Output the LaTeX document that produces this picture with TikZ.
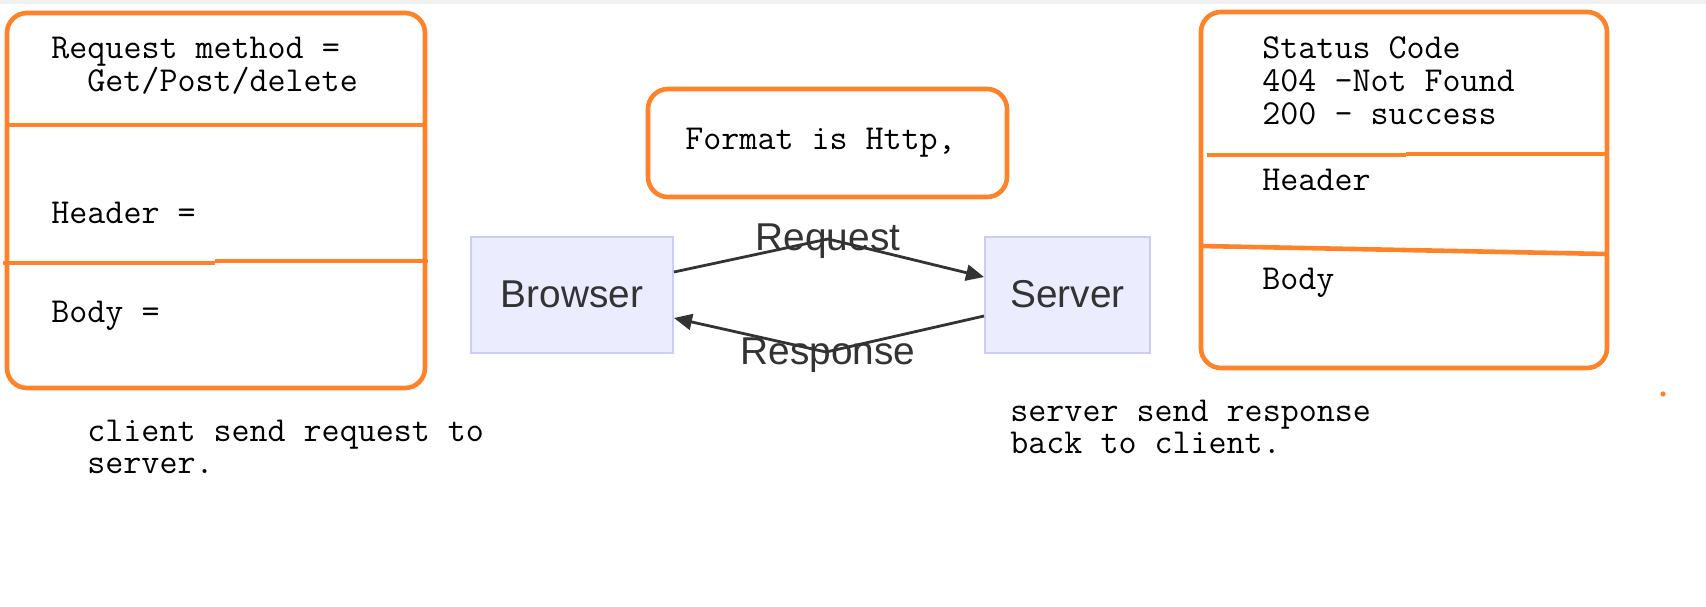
\documentclass[tikz,border=0pt]{standalone}
\usepackage{fontspec}
\setmainfont{Liberation Sans}
\usetikzlibrary{arrows.meta}
\definecolor{orng}{RGB}{255,130,40}
\definecolor{nodefill}{RGB}{236,236,255}
\definecolor{nodeline}{RGB}{204,204,248}
\definecolor{ink}{RGB}{51,51,51}
\begin{document}
\begin{tikzpicture}[x=0.5pt,y=-0.5pt,
  obox/.style={draw=orng,line width=2.3pt,rounded corners=10pt},
  oline/.style={draw=orng,line width=2.3pt},
  mono/.style={font=\ttfamily\fontsize{17.5}{18}\selectfont,inner sep=0pt,anchor=base west,text=black},
  flow/.style={draw=nodeline,fill=nodefill,line width=1pt,minimum height=58pt,inner sep=0pt,font=\fontsize{19.4}{22}\selectfont,text=ink},
  lbl/.style={font=\fontsize{19.4}{22}\selectfont,text=ink,inner sep=0pt,anchor=base},
  arr/.style={draw=ink,line width=1.4pt,-{Triangle[length=9pt,width=8pt]}}]
\useasboundingbox (0,0) rectangle (1706,606);
\fill[black!6] (0,0) rectangle (1706,4);

% left box
\draw[obox] (7,13) rectangle (425,388);
\draw[oline] (7,125) -- (425,125);
\draw[oline] (3,263) -- (215,263);
\draw[oline] (215,261) -- (428,261);
\node[mono] (rm) at (51,58) {Request method =};
\node[mono] (gpd) at (87,91) {Get/Post/delete};
\node[mono] (hdrL) at (51,223) {Header =};
\node[mono] (bodyL) at (51,322) {Body =};

% middle box
\draw[obox] (648,89) rectangle (1007,197);
\node[mono] (fmt) at (685,149) {Format is Http,};

% flow nodes
\node[flow,minimum width=101pt] (browser) at (572,295) {};
\node[lbl] (browsertxt) at (572,307) {Browser};
\node[flow,minimum width=82.5pt] (server) at (1067.5,295) {};
\node[lbl] (servertxt) at (1067.5,307) {Server};

\coordinate (reqpeak) at (828,239);
\coordinate (respeak) at (826,352);
\draw[arr] ([yshift=11.5pt]browser.east) -- (reqpeak) -- ([yshift=9pt]server.west);
\draw[arr] ([yshift=-10.5pt]server.west) -- (respeak) -- ([yshift=-11.5pt]browser.east);
\node[lbl] (reqlbl) at (828,250) {Request};
\node[lbl] (reslbl) at (828,364) {Response};

% right box
\draw[obox] (1201,12) rectangle (1607,368);
\draw[oline] (1207,155) -- (1406,155);
\draw[oline] (1406,154) -- (1607,154);
\draw[oline] (1201,246) -- (1607,254);
\node[mono] (sc) at (1262,58) {Status Code};
\node[mono] (nf) at (1262,91) {404 -Not Found};
\node[mono] (ok) at (1262,124) {200 - success};
\node[mono] (hdrR) at (1262,190) {Header};
\node[mono] (bodyR) at (1262,289) {Body};

\fill[orng] (1663,394) circle (1.3pt);

% captions
\node[mono] (c1) at (87,441) {client send request to};
\node[mono] (c2) at (87,473) {server.};
\node[mono] (s1) at (1010,421) {server send response};
\node[mono] (s2) at (1010,453) {back to client.};
\end{tikzpicture}
\end{document}
